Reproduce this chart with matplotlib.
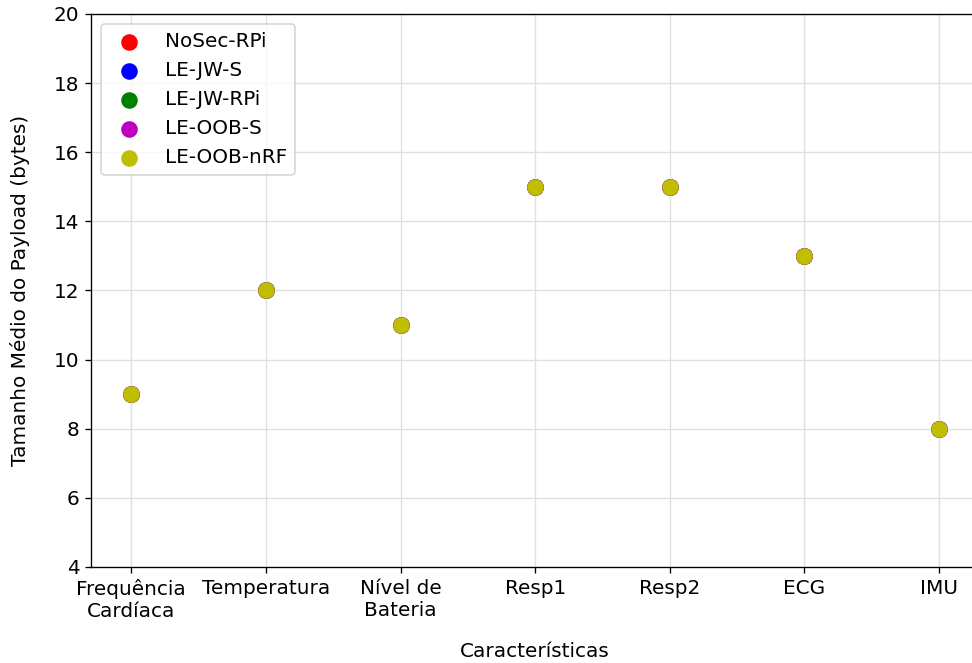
import matplotlib.pyplot as plt

categorias = ['Frequência\nCardíaca', 'Temperatura', 'Nível de\nBateria', 'Resp1', 'Resp2', 'ECG', 'IMU']
series = ['NoSec-RPi', 'LE-JW-S', 'LE-JW-RPi', 'LE-OOB-S', 'LE-OOB-nRF']
cores = ['r', 'b', 'g', 'm', 'y']

nosec_rpi = [9, 12, 11, 15, 15, 13, 8]
le_jw_s = [9, 12, 11, 15, 15, 13, 8]
le_jw_rpi = [9, 12, 11, 15, 15, 13, 8]
le_oob_s = [9, 12, 11, 15, 15, 13, 8]
le_oob_nrf = [9, 12, 11, 15, 15, 13, 8]
valores = [nosec_rpi, le_jw_s, le_jw_rpi, le_oob_s, le_oob_nrf]

fig = plt.figure(figsize=(8.1, 5.525), dpi=120)
ax = fig.add_axes([0.0936, 0.145, 0.914, 0.834])

x = list(range(len(categorias)))
for nome, cor, vals in zip(series, cores, valores):
    ax.scatter(x, vals, color=cor, s=80, label=nome, zorder=3)

ax.set_xticks(x)
ax.set_xticklabels(categorias, fontsize=12)
ax.set_xlim(-0.3, 6.3)
ax.set_ylim(4, 20)
ax.set_yticks(range(4, 21, 2))
ax.tick_params(axis='y', labelsize=12)
ax.grid(True, color='#e0e0e0', linewidth=0.8)
ax.set_axisbelow(True)
ax.set_xlabel('Características', fontsize=12, labelpad=13)
ax.set_ylabel('Tamanho Médio do Payload (bytes)', fontsize=12, labelpad=14)
ax.legend(loc='upper left', fontsize=12)

fig.savefig('out.png', dpi=120)
